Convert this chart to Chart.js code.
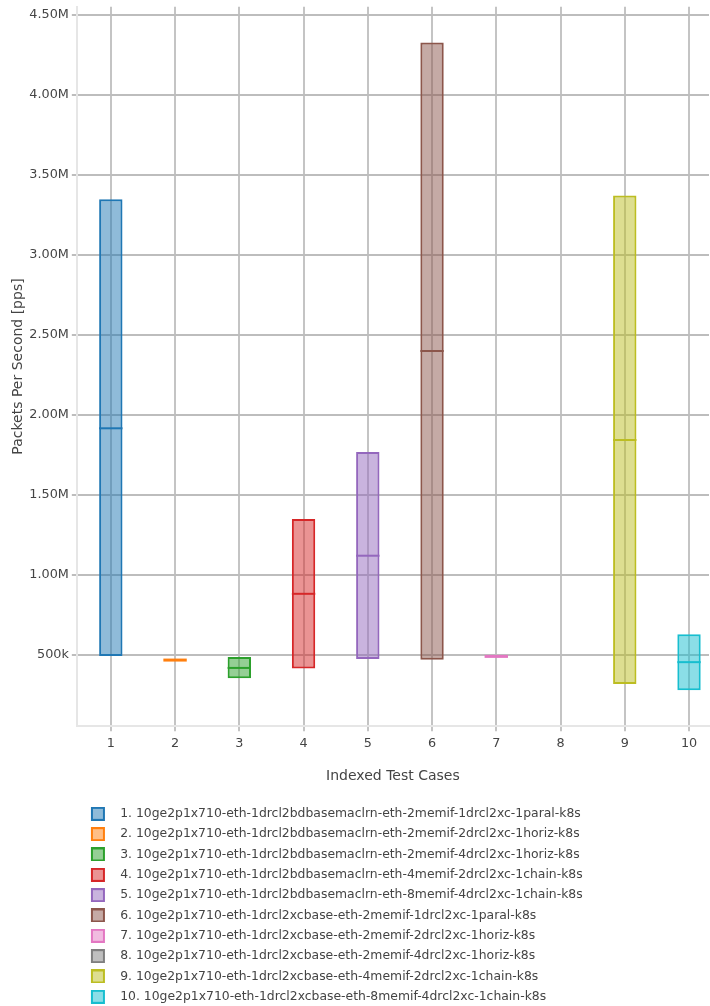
<!DOCTYPE html>
<html>
<head>
<meta charset="utf-8">
<title>Packets Per Second</title>
<script src="https://cdn.jsdelivr.net/npm/chart.js@4.4.1/dist/chart.umd.min.js"></script>
<style>
  html, body { margin: 0; padding: 0; background: #fff; overflow: hidden; }
  #wrap { position: relative; width: 710px; height: 1006px; }
</style>
</head>
<body>
<div id="wrap"><canvas id="chart"></canvas></div>
<script>
// Test case names (legend)
const testCases = [
  "1. 10ge2p1x710-eth-1drcl2bdbasemaclrn-eth-2memif-1drcl2xc-1paral-k8s",
  "2. 10ge2p1x710-eth-1drcl2bdbasemaclrn-eth-2memif-2drcl2xc-1horiz-k8s",
  "3. 10ge2p1x710-eth-1drcl2bdbasemaclrn-eth-2memif-4drcl2xc-1horiz-k8s",
  "4. 10ge2p1x710-eth-1drcl2bdbasemaclrn-eth-4memif-2drcl2xc-1chain-k8s",
  "5. 10ge2p1x710-eth-1drcl2bdbasemaclrn-eth-8memif-4drcl2xc-1chain-k8s",
  "6. 10ge2p1x710-eth-1drcl2xcbase-eth-2memif-1drcl2xc-1paral-k8s",
  "7. 10ge2p1x710-eth-1drcl2xcbase-eth-2memif-2drcl2xc-1horiz-k8s",
  "8. 10ge2p1x710-eth-1drcl2xcbase-eth-2memif-4drcl2xc-1horiz-k8s",
  "9. 10ge2p1x710-eth-1drcl2xcbase-eth-4memif-2drcl2xc-1chain-k8s",
  "10. 10ge2p1x710-eth-1drcl2xcbase-eth-8memif-4drcl2xc-1chain-k8s"
];

// x positions / tick labels
const caseIndex = [1, 2, 3, 4, 5, 6, 7, 8, 9, 10];
const caseLabels = ["1", "2", "3", "4", "5", "6", "7", "8", "9", "10"];

// box values (pps); case 8 has no data
const boxLow    = [494000,  469000, 356000,  416000,  475000,  471000, 492000, null,  319000, 281000];
const boxMedian = [1917000, 469000, 420000,  883000, 1121000, 2400000, 492000, null, 1844000, 456000];
const boxHigh   = [3348000, 469000, 487500, 1350000, 1769000, 4327000, 492000, null, 3371000, 631000];

// y axis ticks
const yTickValues = [500000, 1000000, 1500000, 2000000, 2500000, 3000000, 3500000, 4000000, 4500000];
const yTickLabels = ["500k", "1.00M", "1.50M", "2.00M", "2.50M", "3.00M", "3.50M", "4.00M", "4.50M"];

const palette = ["#1f77b4", "#ff7f0e", "#2ca02c", "#d62728", "#9467bd",
                 "#8c564b", "#e377c2", "#7f7f7f", "#bcbd22", "#17becf"];

function fade(hex, a) {
  const n = parseInt(hex.slice(1), 16);
  return `rgba(${(n >> 16) & 255}, ${(n >> 8) & 255}, ${n & 255}, ${a})`;
}

// legend swatch: square drawn at the right of a wide transparent image
function legendSwatch(color) {
  const c = document.createElement("canvas");
  c.width = 106;
  c.height = 14;
  const g = c.getContext("2d");
  g.fillStyle = fade(color, 0.5);
  g.fillRect(83, 0, 14, 14);
  g.strokeStyle = color;
  g.lineWidth = 2;
  g.strokeRect(84, 1, 12, 12);
  return c;
}

const datasets = testCases.map((name, i) => ({
  label: name,
  data: boxLow[i] == null ? [] : [{ x: caseIndex[i], y: [boxLow[i], boxHigh[i]] }],
  backgroundColor: fade(palette[i], 0.5),
  borderColor: palette[i],
  borderWidth: 2,
  borderSkipped: false,
  grouped: false,
  barPercentage: 0.364,
  categoryPercentage: 1
}));

// median line across each box
const medianLines = {
  id: "medianLines",
  afterDatasetsDraw(chart) {
    const ctx = chart.ctx;
    const yScale = chart.scales.y;
    chart.data.datasets.forEach((ds, i) => {
      if (boxMedian[i] == null) return;
      const meta = chart.getDatasetMeta(i);
      meta.data.forEach(bar => {
        const py = yScale.getPixelForValue(boxMedian[i]);
        const half = bar.width / 2;
        ctx.save();
        ctx.strokeStyle = palette[i];
        ctx.lineWidth = boxLow[i] === boxHigh[i] ? 3 : 2;
        ctx.beginPath();
        ctx.moveTo(bar.x - half, py);
        ctx.lineTo(bar.x + half, py);
        ctx.stroke();
        ctx.restore();
      });
    });
  }
};

const tickFont = { family: "DejaVu Sans", size: 12.8 };

new Chart(document.getElementById("chart"), {
  type: "bar",
  data: { datasets },
  plugins: [medianLines],
  options: {
    responsive: true,
    maintainAspectRatio: false,
    animation: false,
    layout: { padding: { left: 0, right: 1, top: 0, bottom: -7 } },
    plugins: {
      tooltip: { enabled: false },
      legend: {
        position: "bottom",
        align: "start",
        labels: {
          usePointStyle: true,
          pointStyleWidth: 106,
          padding: 7.93,
          color: "#444",
          font: { family: "DejaVu Sans", size: 12.4 },
          generateLabels: chart => chart.data.datasets.map((ds, i) => ({
            text: ds.label,
            pointStyle: legendSwatch(palette[i]),
            fillStyle: fade(palette[i], 0.5),
            strokeStyle: palette[i],
            lineWidth: 0,
            fontColor: "#444",
            hidden: false,
            datasetIndex: i
          }))
        }
      }
    },
    scales: {
      x: {
        type: "linear",
        min: 0.471,
        max: 10.311,
        offset: false,
        afterBuildTicks: s => { s.ticks = caseIndex.map(v => ({ value: v })); },
        ticks: {
          color: "#444",
          font: tickFont,
          padding: 5,
          autoSkip: false,
          maxRotation: 0,
          callback: (v) => caseLabels[caseIndex.indexOf(v)]
        },
        grid: { offset: false, color: "#c4c4c4", lineWidth: 2, tickLength: 5, tickColor: "#c4c4c4" },
        border: { color: "#e6e6e6", width: 2 },
        title: {
          display: true,
          text: "Indexed Test Cases",
          color: "#444",
          font: { family: "DejaVu Sans", size: 14 },
          padding: { top: 11.2, bottom: 15.2 }
        }
      },
      y: {
        min: 56250,
        max: 4550000,
        afterBuildTicks: s => { s.ticks = yTickValues.map(v => ({ value: v })); },
        ticks: {
          color: "#444",
          font: { family: "DejaVu Sans", size: 12.8, lineHeight: 0.6 },
          padding: 3,
          callback: (v) => yTickLabels[yTickValues.indexOf(v)]
        },
        grid: { color: "#bdbdbd", lineWidth: 2, tickLength: 5, tickColor: "#bdbdbd" },
        border: { color: "#e6e6e6", width: 2 },
        title: {
          display: true,
          text: "Packets Per Second [pps]",
          color: "#444",
          font: { family: "DejaVu Sans", size: 14 },
          padding: { top: 9.5, bottom: 0 }
        }
      }
    }
  }
});
</script>
</body>
</html>
